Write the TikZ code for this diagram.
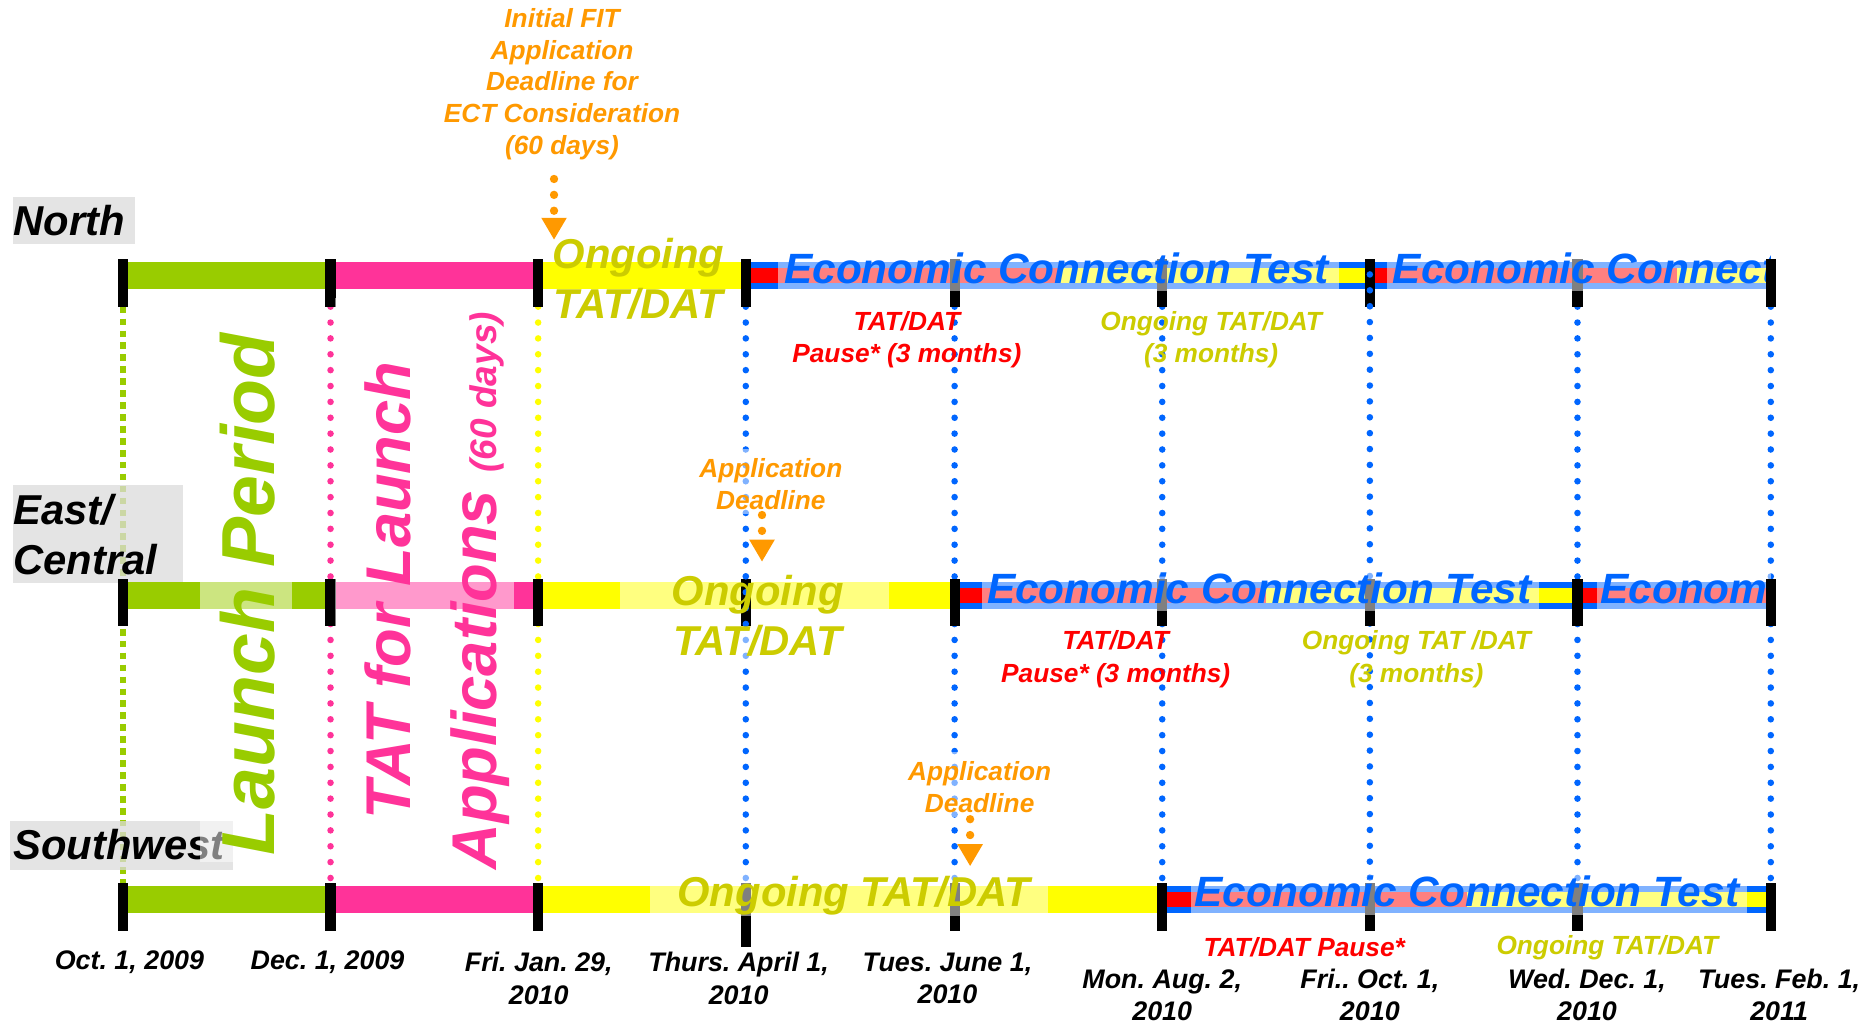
\documentclass[tikz,border=0pt]{standalone}
\usepackage{fontspec}
\setmainfont{Liberation Sans}
\usetikzlibrary{arrows.meta}
\frenchspacing
\definecolor{lgreen}{HTML}{99CC00}
\definecolor{lpink}{HTML}{FF3399}
\definecolor{lyellow}{HTML}{FFFF00}
\definecolor{eblue}{HTML}{0066FF}
\definecolor{olivetxt}{HTML}{CCCC00}
\definecolor{orng}{HTML}{FF9900}
\definecolor{lgray}{HTML}{DCDCDC}
\newcommand{\fsz}[2]{\fontsize{#1}{#2}\selectfont\bfseries\itshape\frenchspacing}
\newcommand{\seg}[4]{\fill[#1] (#2,#4-11.3) rectangle (#3,#4+11.3);}
\newcommand{\ectbar}[4]{%
  \fill[eblue] (#1,#4-11.3) rectangle (#3,#4+11.3);
  \fill[red] (#1,#4-6.5) rectangle (#2,#4+6.5);
  \fill[lyellow] (#2,#4-6.5) rectangle (#3,#4+6.5);}
\newcommand{\tickat}[2]{\fill[black] (#1-4.25,#2-14) rectangle (#1+4.25,#2+26);}
\tikzset{
  bdots/.style={eblue, line width=5.5pt, line cap=round, dash pattern=on 0pt off 13.3pt},
  pdots/.style={lpink, line width=5.5pt, line cap=round, dash pattern=on 0pt off 13.3pt},
  ydots/.style={lyellow, line width=5.5pt, line cap=round, dash pattern=on 0pt off 13.3pt},
  gdash/.style={lgreen, line width=5pt, dash pattern=on 5.6pt off 4.4pt},
  veil/.style={fill=white, fill opacity=0.5},
  lblbox/.style={fill=lgray, fill opacity=0.75},
  oarrow/.style={orng, line width=7pt, line cap=round, dash pattern=on 0pt off 13.3pt,
    -{Triangle[width=20pt,length=18.5pt]}},
  rowlbl/.style={font=\fsz{35}{42}, text=black, inner sep=0pt, align=left},
  ecttxt/.style={font=\fsz{35.5}{42}, text=eblue, anchor=base west, inner sep=0pt},
  ongbig/.style={font=\fsz{35}{42}, text=olivetxt, align=center, inner sep=0pt},
  datetxt/.style={font=\fsz{22.5}{27}, text=black, align=center, inner sep=0pt},
  pausetxt/.style={font=\fsz{22}{27}, text=red, align=center, inner sep=0pt},
  ongsmall/.style={font=\fsz{22}{27}, text=olivetxt, align=center, inner sep=0pt},
  orntxt/.style={font=\fsz{22}{26.7}, text=orng, align=center, inner sep=0pt},
}
\begin{document}
\begin{tikzpicture}[x=1pt,y=-1pt]
\useasboundingbox (0,0) rectangle (1568,857);
\fill[white] (0,0) rectangle (1568,857);

% vertical guide lines
\draw[gdash] (103,257) -- (103,740);
\draw[pdots] (277,257) -- (277,740);
\draw[ydots] (451,257) -- (451,740);
\foreach \x in {625,800,974,1322,1484} \draw[bdots] (\x,257) -- (\x,740);
\draw[bdots] (1148,230) -- (1148,740);

% row labels
\fill[lblbox] (10.7,165) rectangle (113,204.5);
\node[rowlbl, anchor=base west] (north) at (11,197) {North};
\fill[lblbox] (10.6,406.5) rectangle (153,488.6);
\node[rowlbl, anchor=west] (east) at (11,448) {East/\\Central};
\fill[lblbox] (8,688) rectangle (195,729);
\node[rowlbl, anchor=base west] (south) at (11,720) {Southwest};

% bars: North (yc=231)
\seg{lgreen}{103}{277}{231}
\seg{lpink}{277}{451}{231}
\seg{lyellow}{451}{625}{231}
\ectbar{625}{887}{1148}{231}
\ectbar{1148}{1405}{1484}{231}
% bars: East/Central (yc=499)
\seg{lgreen}{103}{277}{499}
\seg{lpink}{277}{451}{499}
\seg{lyellow}{451}{800}{499}
\ectbar{800}{1061}{1322}{499}
\ectbar{1322}{1484}{1484}{499}
% bars: Southwest (yc=754)
\seg{lgreen}{103}{277}{754}
\seg{lpink}{277}{451}{754}
\seg{lyellow}{451}{974}{754}
\ectbar{974}{1229}{1484}{754}

% ticks
\foreach \x in {103,277,451,625,800,974,1148,1322,1484} {\tickat{\x}{231}\tickat{\x}{499}}
\foreach \x in {103,277,451,800,974,1148,1322,1484} {\tickat{\x}{754}}
\fill[black] (625-4.25,740) rectangle (625+4.25,794);

% veils (semi-transparent text backgrounds)
\begin{scope}
\clip (0,0) rectangle (1484,857);
\fill[veil] (652,205) rectangle (1122,244);
\fill[veil] (1162,205) rectangle (1500,244);
\fill[veil] (823,473) rectangle (1290,512);
\fill[veil] (1338,473) rectangle (1500,512);
\fill[veil] (998,728) rectangle (1464,767);
\node[ecttxt] (ectn1) at (657,237.5) {Economic Connection Test};
\node[ecttxt] (ectn2) at (1167,237.5) {Economic Connection Test};
\node[ecttxt] (ecte1) at (827,505.5) {Economic Connection Test};
\node[ecttxt] (ecte2) at (1341,505.5) {Economic Connection Test};
\node[ecttxt] (ects1) at (1001,760) {Economic Connection Test};
\end{scope}
\fill[veil] (520,473.6) rectangle (745,556);
\fill[veil] (545,728) rectangle (878,768);
\fill[veil] (586,376) rectangle (706,431);
\fill[veil] (760,630) rectangle (881,685);
\fill[veil] (168,275) rectangle (245,722);
\fill[veil] (281,250) rectangle (431,736);

% ticks and dots redrawn on top
\tickat{1484}{231}
\tickat{1484}{499}
\tickat{625}{499}
\draw[bdots] (625,483) -- (625,536);
\draw[bdots] (1148,230) -- (1148,257);

% rotated titles
\node[rotate=90, font=\fsz{63}{72}, text=lgreen, inner sep=0pt] (launch) at (207.5,498) {Launch Period};
\node[rotate=90, font=\fsz{53}{72}, text=lpink, align=center, inner sep=0pt] (tatlaunch) at (366,495)
  {TAT for Launch\\Applications {\fontsize{31}{36}\selectfont (60 days)}};

% ongoing TAT/DAT labels
\node[ongbig] (ongn) at (535,234) {Ongoing\\TAT/DAT};
\node[ongbig] (onge) at (635,516) {Ongoing\\TAT/DAT};
\node[ongbig, anchor=base] (ongs) at (715.5,760) {Ongoing TAT/DAT};

% pause / ongoing small labels
\node[pausetxt] (pn) at (760,284.5) {TAT/DAT\\Pause* (3 months)};
\node[ongsmall] (on) at (1015,284.5) {Ongoing TAT/DAT\\(3 months)};
\node[pausetxt] (pe) at (935,552.5) {TAT/DAT\\Pause* (3 months)};
\node[ongsmall] (oe) at (1187,552.5) {Ongoing TAT /DAT\\(3 months)};
\node[pausetxt] (ps) at (1093,794) {TAT/DAT Pause*};
\node[ongsmall] (os) at (1347,794) {Ongoing TAT/DAT};

% orange annotations
\node[orntxt] (fit) at (471,70.5) {Initial FIT\\Application\\Deadline for\\ECT Consideration\\(60 days)};
\coordinate (fitA) at (464.3,150);
\coordinate (fitB) at (464.3,201);
\draw[oarrow] (fitA) -- (fitB);
\node[orntxt] (ade) at (646,405.5) {Application\\Deadline};
\coordinate (adeA) at (638.6,431.6);
\coordinate (adeB) at (638.6,470.8);
\draw[oarrow] (adeA) -- (adeB);
\node[orntxt] (ads) at (821,660) {Application\\Deadline};
\coordinate (adsA) at (813,686.5);
\coordinate (adsB) at (813,726);
\draw[oarrow] (adsA) -- (adsB);

% dates
\node[datetxt] (d1) at (108.5,806) {Oct. 1, 2009};
\node[datetxt] (d2) at (274.5,806) {Dec. 1, 2009};
\node[datetxt] (d3) at (451.5,820) {Fri. Jan. 29,\\2010};
\node[datetxt] (d4) at (619,820) {Thurs. April 1,\\2010};
\node[datetxt] (d5) at (794,820) {Tues. June 1,\\2010};
\node[datetxt] (d6) at (974,834) {Mon. Aug. 2,\\2010};
\node[datetxt] (d7) at (1148,834) {Fri.. Oct. 1,\\2010};
\node[datetxt] (d8) at (1330,834) {Wed. Dec. 1,\\2010};
\node[datetxt] (d9) at (1491,834) {Tues. Feb. 1,\\2011};
\end{tikzpicture}
\end{document}
